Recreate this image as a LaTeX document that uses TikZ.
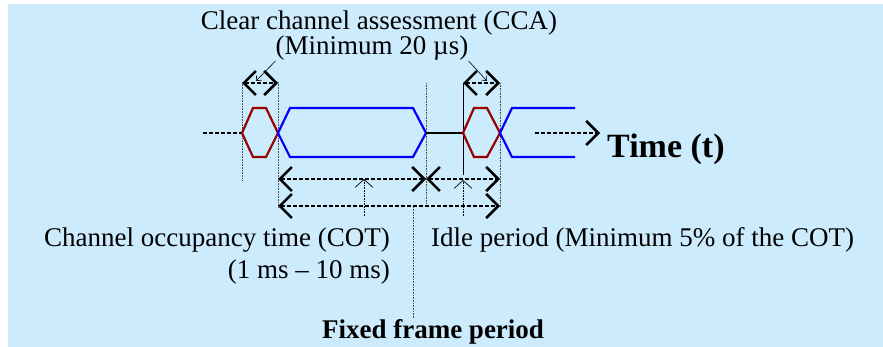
\documentclass[tikz,border=0pt]{standalone}
\usepackage{fontspec}
\setmainfont{Liberation Serif}
\usetikzlibrary{arrows.meta}
\definecolor{bgblue}{RGB}{204,235,252}
\definecolor{ccared}{RGB}{153,0,0}
\tikzset{
  bigtip/.tip={Straight Barb[length=12pt,width=24pt,line width=2.6pt,sharp]},
  smalltip/.tip={Straight Barb[length=8pt,width=18pt,line width=0.7pt]},
  span/.style={line width=2pt, dash pattern=on 4pt off 2pt},
  wave/.style={line width=2.2pt, line join=miter},
  guide/.style={densely dotted, line width=0.6pt, black!70},
  pointer/.style={densely dotted, line width=0.6pt, -smalltip},
  lbl/.style={inner sep=0pt, font=\fontsize{27}{30}\selectfont}
}
\begin{document}
\begin{tikzpicture}[x=1pt,y=-1pt]
% Background
\useasboundingbox (0,0) rectangle (883,347);
\fill[bgblue] (8,4) rectangle (883,347);

% Time instants
\coordinate (t1) at (242,133);
\coordinate (t2) at (278,133);
\coordinate (t3) at (426,133);
\coordinate (t4) at (463,133);
\coordinate (t5) at (500,133);

% Guide lines
\foreach \x/\a/\b in {242/82/180, 278/82/207, 426/83/205, 500/83/207}
  \draw[guide] (\x,\a) -- (\x,\b);
\draw[line width=0.7pt] (463,83) -- (463,175);

% Waveform
\draw[span] (203,133) -- (t1);
\draw[ccared, wave] (t1) -- (253,108) -- (266,108) -- (t2) -- (266,157) -- (253,157) -- cycle;
\draw[blue, wave] (t2) -- (290,108) -- (413,108) -- (t3) -- (413,157) -- (290,157) -- cycle;
\draw[wave] (t3) -- (t4);
\draw[ccared, wave] (t4) -- (474,108) -- (487,108) -- (t5) -- (487,157) -- (474,157) -- cycle;
\draw[blue, wave] (575,108) -- (512,108) -- (t5) -- (512,157) -- (575,157);
\draw[span, -bigtip] (535,133) -- (600,133);
\node[lbl, font=\fontsize{34}{38}\selectfont\bfseries, anchor=base west] (time) at (607,158) {Time (t)};

% CCA spans
\draw[span, bigtip-bigtip] (242,83) -- (278,83);
\draw[span, bigtip-bigtip] (463,83) -- (500,83);
\node[lbl, anchor=base] (cca) at (379,30) {Clear channel assessment (CCA)};
\node[lbl, anchor=base] (ccamin) at (372,55) {(Minimum 20 µs)};
\coordinate (cca1) at (256,81);
\coordinate (cca2) at (487,81);
\draw[line width=0.6pt, -{Straight Barb[length=4pt,width=7pt]}] (ccamin.south west) -- (cca1);
\draw[line width=0.6pt, -{Straight Barb[length=4pt,width=7pt]}] (ccamin.south east) -- (cca2);

% COT and idle period
\draw[span, bigtip-bigtip] (278,179) -- (426,179);
\draw[span, bigtip-bigtip] (426,179) -- (500,179);
\draw[pointer] (364,216) -- (364,179);
\draw[pointer] (463,216) -- (463,180);
\node[lbl, anchor=base east] (cot) at (390,247) {Channel occupancy time (COT)};
\node[lbl, anchor=base east] (cotval) at (390,279) {(1 ms – 10 ms)};
\node[lbl, anchor=base west] (idle) at (431,247) {Idle period (Minimum 5\% of the COT)};

% Fixed frame period
\draw[span, bigtip-bigtip] (278,206) -- (500,206);
\node[lbl, font=\fontsize{27}{30}\selectfont\bfseries, anchor=base] (ffp) at (433,338) {Fixed frame period};
\draw[guide] (413,207) -- (ffp.north -| 413,0);
\end{tikzpicture}
\end{document}
